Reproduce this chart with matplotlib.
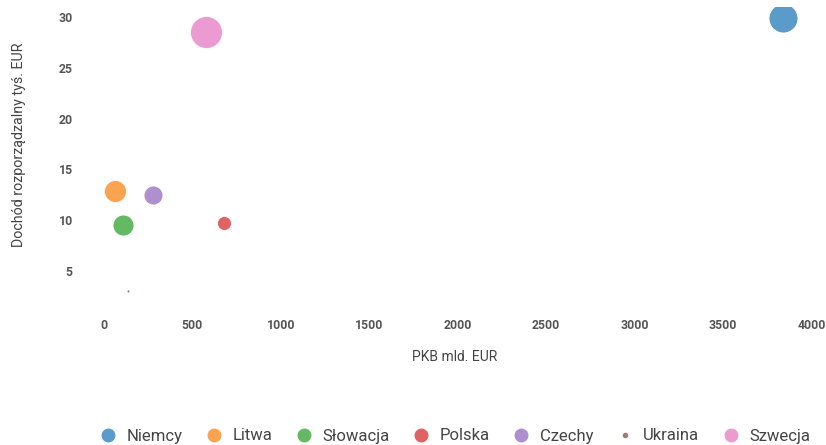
import matplotlib
matplotlib.use("Agg")
import matplotlib.pyplot as plt
from matplotlib.lines import Line2D

plt.rcParams['font.family'] = ['Roboto', 'DejaVu Sans']

countries = ["Niemcy", "Litwa", "Słowacja", "Polska", "Czechy", "Ukraina", "Szwecja"]
gdp = [3836, 62, 108, 680, 278, 136, 578]          # PKB mld. EUR
income = [29.9, 12.9, 9.5, 9.7, 12.5, 3.0, 28.5]   # Dochód rozporządzalny tyś. EUR
bubble = [29, 22, 21, 14, 19, 3, 32]                # bubble diameter (px)
colors = ["#5b9bc9", "#fca352", "#63ba63", "#e06262", "#b08fcf", "#a07c70", "#eb9bd1"]
xticks = [0, 500, 1000, 1500, 2000, 2500, 3000, 3500, 4000]
yticks = [5, 10, 15, 20, 25, 30]

W, H = 826, 445
fig = plt.figure(figsize=(W / 100, H / 100), dpi=100)
xmin, xmax = -80, 4050
ymin, ymax = 1.5, 31
px_per_x = (811.7 - 103.7) / 4000
left_px = 103.7 + xmin * px_per_x
right_px = 103.7 + xmax * px_per_x
px_per_y = (271 - 17) / 25
top_px = 17 - (ymax - 30) * px_per_y
bot_px = 271 + (5 - ymin) * px_per_y
ax = fig.add_axes([left_px / W, 1 - bot_px / H, (right_px - left_px) / W, (bot_px - top_px) / H])

for c, x, y, d, col in zip(countries, gdp, income, bubble, colors):
    s = (d * 0.72) ** 2
    ax.scatter([x], [y], s=s, color=col, edgecolors="white", linewidths=0.6, zorder=3)

ax.set_xlim(xmin, xmax)
ax.set_ylim(ymin, ymax)
ax.set_xticks(xticks)
ax.set_yticks(yticks)
ax.set_xticklabels([str(t) for t in xticks])
ax.set_yticklabels([str(t) for t in yticks])
for sp in ax.spines.values():
    sp.set_visible(False)
ax.tick_params(length=0, labelsize=8.8, labelcolor="#555555")
for lab in ax.get_xticklabels() + ax.get_yticklabels():
    lab.set_fontweight("bold")
ax.tick_params(axis="x", pad=9)
ax.tick_params(axis="y", pad=12)

ax.set_xlabel("PKB mld. EUR", fontsize=10, color="#444444", labelpad=13)
ax.set_ylabel("Dochód rozporządzalny tyś. EUR", fontsize=10.3, color="#444444")
ax.yaxis.set_label_coords((26 - left_px) / (right_px - left_px), (bot_px - 145) / (bot_px - top_px))

handles = [Line2D([0], [0], marker="o", linestyle="", markersize=(9 if d > 5 else 3),
                  markerfacecolor=col, markeredgecolor=col) for d, col in zip(bubble, colors)]
fig.legend(handles, countries, loc="center", bbox_to_anchor=(0.55, 1 - 436 / H), ncol=7,
           frameon=False, fontsize=12, labelcolor="#444444", handletextpad=0.5,
           columnspacing=1.3, handlelength=1.2)

fig.savefig("out.png", dpi=100)
